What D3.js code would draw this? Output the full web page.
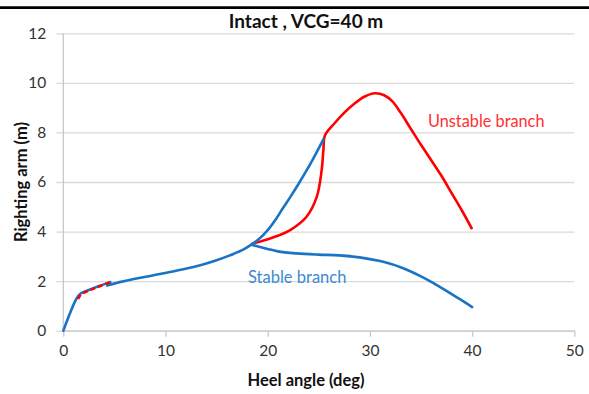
<!DOCTYPE html>
<html>
<head>
<meta charset="utf-8">
<script src="https://cdn.jsdelivr.net/npm/d3@7"></script>
<style>
  html, body { margin: 0; padding: 0; background: #fff; }
  svg { display: block; font-family: Lato, "Open Sans", sans-serif; }
</style>
</head>
<body>
<svg id="chart" width="589" height="394"></svg>
<script>
// Righting arm curve, intact condition, VCG = 40 m
const xTicks = [0, 10, 20, 30, 40, 50];
const yTicks = [0, 2, 4, 6, 8, 10, 12];

// stable branch: origin up to the small fold
const stableStart = [[0, 0], [1.3, 1.3], [1.7, 1.5], [2.5, 1.64], [3.5, 1.8], [4.6, 1.96]];
// stable branch: after the small fold up to the bifurcation point
const stableRise = [[4.3, 1.82], [5.5, 1.96], [6.9, 2.09], [8.5, 2.21], [10.1, 2.34], [11.5, 2.46],
  [13.4, 2.64], [14.7, 2.8], [16.3, 3.04], [17.6, 3.27], [18.4, 3.47]];
// stable branch: upper limb from the bifurcation to the turning point
const stableUpper = [[18.4, 3.47], [19.2, 3.72], [20, 4.06], [20.8, 4.5], [21.5, 4.95],
  [22.3, 5.45], [23.1, 5.98], [24.2, 6.75], [25.45, 7.72]];
// stable branch: lower limb from the bifurcation out to 40 deg
const stableLower = [[18.4, 3.47], [19.9, 3.31], [21, 3.2], [22.8, 3.12], [25, 3.07], [27, 3.04],
  [29, 2.96], [31, 2.81], [32, 2.7], [33, 2.56], [34, 2.39], [35, 2.19], [36, 1.97], [37, 1.73],
  [38, 1.48], [39, 1.22], [40, 0.95]];
// unstable branch from the bifurcation, through the fold, over the peak
const unstable = [[18.4, 3.5], [19.6, 3.64], [21, 3.83], [22.2, 4.06], [23.8, 4.6], [24.8, 5.4],
  [25.28, 6.48], [25.45, 7.3], [25.6, 7.88], [26.5, 8.35], [27.5, 8.8], [28.5, 9.17], [29.5, 9.45],
  [30.5, 9.58], [31.4, 9.5], [32.2, 9.25], [33, 8.8], [34, 8.15], [35, 7.5], [36, 6.88],
  [37, 6.25], [38, 5.55], [39, 4.85], [40, 4.1]];
// unstable segment near the small fold
const unstableSmall = [[1.45, 1.28], [1.7, 1.45], [2.5, 1.62], [3.5, 1.78], [4.7, 1.98]];

const svg = d3.select("#chart");
const x = d3.scaleLinear().domain([0, 50]).range([63.3, 574.3]);
const y = d3.scaleLinear().domain([0, 12]).range([330.7, 33.3]);

// rule across the top of the figure
svg.append("line").attr("x1", 0).attr("x2", 589).attr("y1", 7.6).attr("y2", 7.6)
  .attr("stroke", "#000").attr("stroke-width", 2.6);

// horizontal gridlines with the outside tick marks of the value axis
const yAxis = d3.axisLeft(y).tickValues(yTicks).tickSize(-(x(50) - x(0))).tickSizeOuter(0)
  .tickPadding(10);
const gy = svg.append("g").attr("transform", `translate(${x(0)},0)`).call(yAxis);
gy.select(".domain").remove();
gy.selectAll(".tick line").attr("stroke", "#d9d9d9").attr("stroke-width", 1.3)
  .attr("x1", -7);
gy.selectAll(".tick text").attr("x", -17).attr("fill", "#333").attr("font-size", 15.5)
  .attr("font-family", "Lato, sans-serif");

// vertical axis line
svg.append("line").attr("x1", x(0)).attr("x2", x(0)).attr("y1", y(12)).attr("y2", y(0))
  .attr("stroke", "#c8c8c8").attr("stroke-width", 1.3);

// category axis along the bottom
const xAxis = d3.axisBottom(x).tickValues(xTicks).tickSize(6).tickSizeOuter(0).tickPadding(8);
const gx = svg.append("g").attr("transform", `translate(0,${y(0)})`).call(xAxis);
gx.select(".domain").attr("stroke", "#c8c8c8").attr("stroke-width", 1.3);
gx.selectAll(".tick line").attr("stroke", "#c8c8c8").attr("stroke-width", 1.3);
gx.selectAll(".tick text").attr("fill", "#333").attr("font-size", 15.5)
  .attr("font-family", "Lato, sans-serif");

// curves
const line = d3.line().x(d => x(d[0])).y(d => y(d[1])).curve(d3.curveCatmullRom.alpha(0.5));
const blue = "#1a74c6", red = "#ff0000";
[unstable].forEach(s => svg.append("path").attr("d", line(s)).attr("fill", "none")
  .attr("stroke", red).attr("stroke-width", 2.6).attr("stroke-linejoin", "round"));
[stableStart, stableRise, stableUpper, stableLower].forEach(s => svg.append("path")
  .attr("d", line(s)).attr("fill", "none").attr("stroke", blue).attr("stroke-width", 2.6)
  .attr("stroke-linejoin", "round").attr("stroke-linecap", "round"));
svg.append("path").attr("d", line(unstableSmall)).attr("fill", "none").attr("stroke", red)
  .attr("stroke-width", 2.6).attr("stroke-dasharray", "5,3");

// branch labels
svg.append("text").attr("x", 428).attr("y", 127).attr("fill", "#ff3030")
  .attr("font-size", 16.3).text("Unstable branch");
svg.append("text").attr("x", 248).attr("y", 283).attr("fill", "#3a8ad2")
  .attr("font-size", 16.5).text("Stable branch");

// titles
svg.append("text").attr("x", 306).attr("y", 28).attr("text-anchor", "middle")
  .attr("font-weight", "bold").attr("font-size", 19).attr("fill", "#111").text("Intact , VCG=40 m");
svg.append("text").attr("x", 306).attr("y", 386).attr("text-anchor", "middle")
  .attr("font-weight", "bold").attr("font-size", 16.5).attr("fill", "#111").text("Heel angle (deg)");
svg.append("text").attr("transform", `translate(27,${(y(0) + y(12)) / 2}) rotate(-90)`)
  .attr("text-anchor", "middle").attr("font-weight", "bold").attr("font-size", 16.5)
  .attr("fill", "#111").text("Righting arm (m)");
</script>
</body>
</html>
